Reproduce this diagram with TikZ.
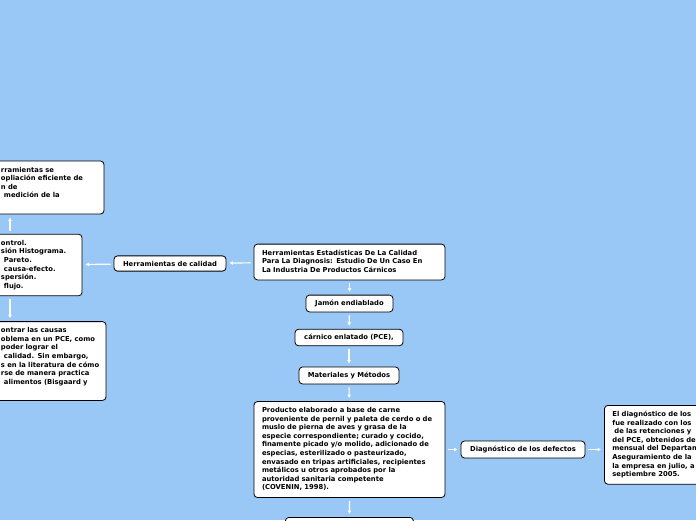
\documentclass[tikz,border=0pt]{standalone}
\usepackage{fontspec}
\setmainfont{DejaVu Sans}
\usetikzlibrary{arrows.meta}
\definecolor{mapBlue}{RGB}{154, 200, 246}
\newcommand{\rows}[1]{\begin{tabular}{@{}l@{}}#1\end{tabular}}

\begin{document}
\begin{tikzpicture}[x=1pt, y=-1pt,
    topic/.style={draw=black, fill=white, line width=0.8pt, rounded corners=3.5pt,
      inner xsep=8pt, inner ysep=5pt, align=center,
      font=\bfseries\fontsize{6.8}{8.6}\selectfont},
    note/.style={topic, align=left},
    link/.style={draw=white, line width=1.2pt, -{Latex[length=3.5pt,width=4pt]},
      shorten <=3pt, shorten >=3pt}]
        \useasboundingbox (0,0) rectangle (696,520);
        \fill[mapBlue] (0,0) rectangle (696,520);
        \clip (0,0) rectangle (696,520);
        % central topic
        \node[note, text width=175pt] (main) at (349.5,262)
          {\rows{Herramientas Estadísticas De La Calidad\\
                 Para La Diagnosis: Estudio De Un Caso En\\
                 La Industria De Productos Cárnicos}};
        \node[topic, text width=96pt] (calidad) at (170,263.5) {Herramientas de calidad};
        \node[topic, text width=71pt] (jamon) at (349.5,303.5) {Jamón endiablado};
        \node[topic, text width=92pt] (carnico) at (349,337.5) {cárnico enlatado (PCE),};
        \node[topic, text width=84pt] (metodos) at (349,375.5) {Materiales y Métodos};
        \node[note, text width=175pt] (producto) at (349.5,449.5)
          {\rows{Producto elaborado a base de carne\\
                 proveniente de pernil y paleta de cerdo o de\\
                 muslo de pierna de aves y grasa de la\\
                 especie correspondiente; curado y cocido,\\
                 finamente picado y/o molido, adicionado de\\
                 especias, esterilizado o pasteurizado,\\
                 envasado en tripas artificiales, recipientes\\
                 metálicos u otros aprobados por la\\
                 autoridad sanitaria competente\\
                 (COVENIN, 1998).}};
        \node[topic, text width=108pt] (defectos) at (523,449.5) {Diagnóstico de los defectos};
        \node[note, text width=110pt, anchor=north west] (informe) at (604,405)
          {\rows{El diagnóstico de los\\
                 fue realizado con los\\
                 \hspace{2pt}de las retenciones y\\
                 del PCE, obtenidos de\\
                 mensual del Departamento\\
                 Aseguramiento de la\\
                 la empresa en julio, a\\
                 septiembre 2005.}};
        \node[topic, text width=112pt, minimum height=19pt, anchor=north west] (siguiente) at (285,517) {};
        % branches cut by the left edge
        \node[note, text width=95pt] (uso) at (48.5,187.5)
          {\rows{rramientas se\\
                 opliación eficiente de\\
                 n de\\
                 \hspace{3pt}medición de la\\
                 \strut}};
        \node[note, text width=73pt] (lista) at (37.5,265)
          {\rows{ontrol.\\
                 sión Histograma.\\
                 \hspace{3pt}Pareto.\\
                 \hspace{3pt}causa-efecto.\\
                 spersión.\\
                 \hspace{3pt}flujo.}};
        \node[note, text width=97pt] (causas) at (49.5,361)
          {\rows{ontrar las causas\\
                 oblema en un PCE, como\\
                 poder lograr el\\
                 \hspace{3pt}calidad. Sin embargo,\\
                 s en la literatura de cómo\\
                 rse de manera practica\\
                 \hspace{3pt}alimentos (Bisgaard y\\
                 \strut}};
        \coordinate (spine) at (10,0);
        % connectors
        \draw[link] (main) -- (calidad);
        \draw[link] (calidad) -- (lista);
        \draw[link] (lista.north -| spine) -- (uso.south -| spine);
        \draw[link] (lista.south -| spine) -- (causas.north -| spine);
        \draw[link] (main) -- (jamon);
        \draw[link] (jamon) -- (carnico);
        \draw[link] (carnico) -- (metodos);
        \draw[link] (metodos) -- (producto);
        \draw[link] (producto) -- (defectos);
        \draw[link] (defectos.east) -- (informe.west |- defectos.east);
        \draw[link] (producto) -- (siguiente);
      \end{tikzpicture}
\end{document}
